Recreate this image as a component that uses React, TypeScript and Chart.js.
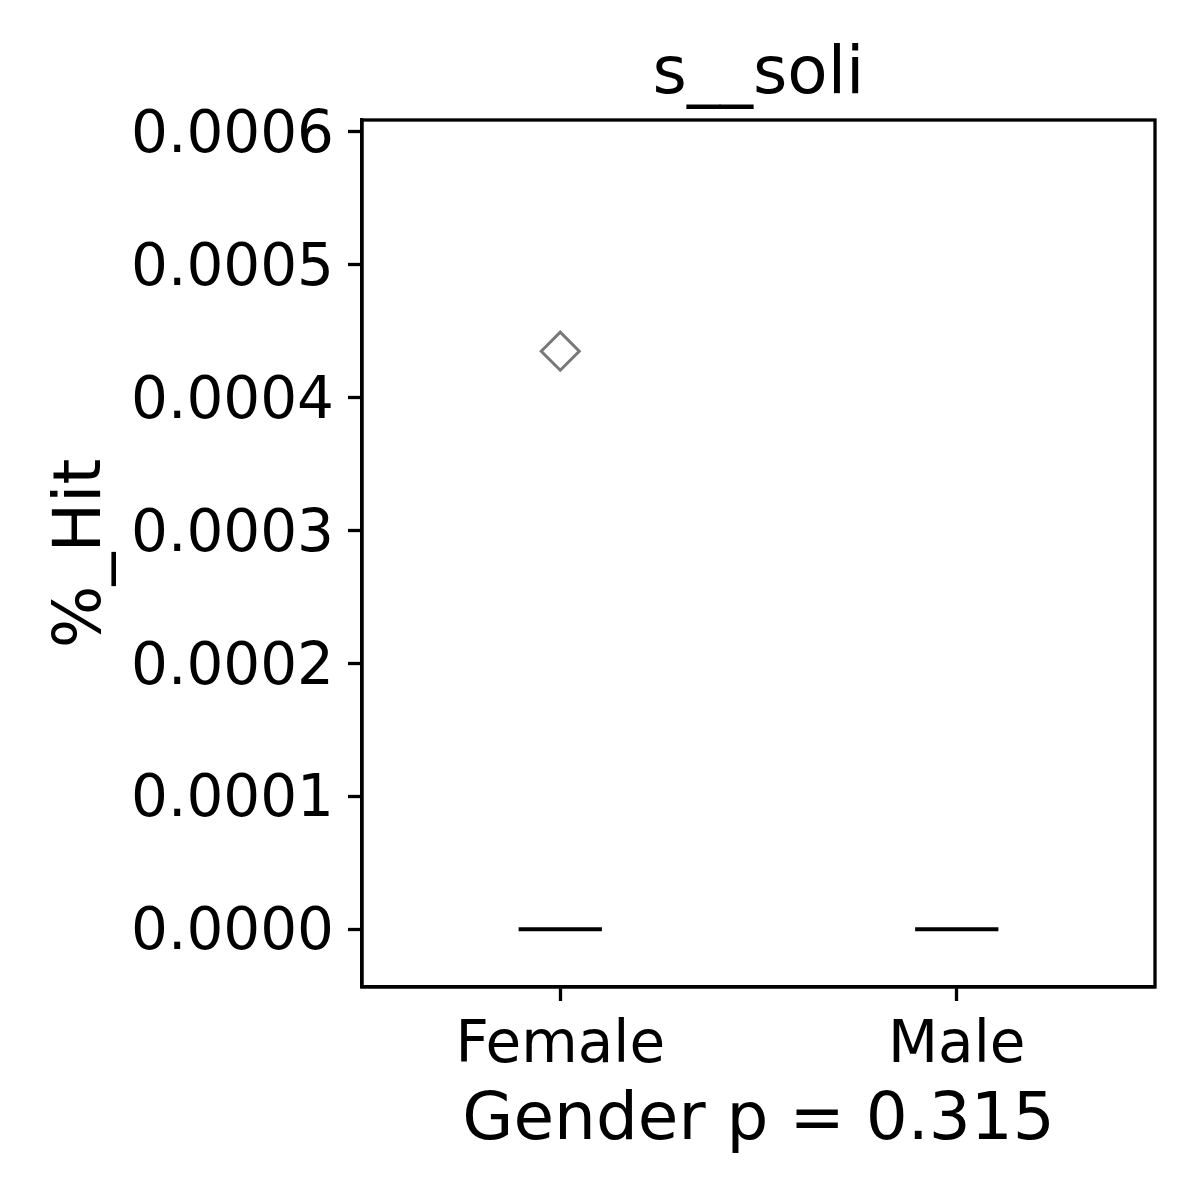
import React, { useEffect, useRef } from "react";
import { Chart, registerables } from "chart.js";

Chart.register(...registerables);

const categories = ["Female", "Male"];
const medians = [0, 0];
const outliers: number[][] = [[0.000435], []];
const yTickValues = [0, 0.0001, 0.0002, 0.0003, 0.0004, 0.0005, 0.0006];
const yMin = -0.0000435;
const yMax = 0.000609;
const titleText = "s__soli";
const xTitle = "Gender p = 0.315";
const yTitle = "%_Hit";

const BOX_HALF = 0.105;
const FONT = "'DejaVu Sans', sans-serif";

const frame = {
  id: "frame",
  afterDraw(chart: any) {
    const { ctx, chartArea } = chart;
    ctx.save();
    ctx.strokeStyle = "#000";
    ctx.lineWidth = 3.3;
    ctx.strokeRect(chartArea.left, chartArea.top, chartArea.right - chartArea.left, chartArea.bottom - chartArea.top);
    ctx.restore();
  },
};

export default function App() {
  const ref = useRef<HTMLCanvasElement>(null);
  useEffect(() => {
    const datasets: any[] = [];
    categories.forEach((c, i) => {
      datasets.push({
        type: "line",
        label: c + " median",
        data: [
          { x: i - BOX_HALF, y: medians[i] },
          { x: i + BOX_HALF, y: medians[i] },
        ],
        borderColor: "#000",
        borderWidth: 4,
        pointRadius: 0,
        borderCapStyle: "butt",
      });
      if (outliers[i].length) {
        datasets.push({
          type: "scatter",
          label: c + " outliers",
          data: outliers[i].map((v) => ({ x: i, y: v })),
          pointStyle: "rectRot",
          pointRadius: 19,
          borderWidth: 3,
          borderColor: "rgb(120,120,120)",
          backgroundColor: "rgba(0,0,0,0)",
        });
      }
    });
    const chart = new Chart(ref.current!, {
      type: "scatter",
      data: { datasets },
      options: {
        animation: false,
        responsive: false,
        devicePixelRatio: 1,
        layout: { padding: { left: 0, right: 45, top: 0, bottom: 0 } },
        plugins: {
          legend: { display: false },
          tooltip: { enabled: false },
          title: {
            display: true,
            fullSize: false,
            text: titleText,
            color: "#000",
            font: { family: FONT, size: 66, weight: "normal" },
            padding: { top: 36, bottom: 4.8 },
          },
        },
        scales: {
          x: {
            type: "linear",
            min: -0.5,
            max: 1.5,
            afterBuildTicks: (s: any) => {
              s.ticks = categories.map((_, i) => ({ value: i }));
            },
            afterFit: (s: any) => {
              s.height = 213;
            },
            ticks: {
              color: "#000",
              font: { family: FONT, size: 58 },
              padding: 11,
              maxRotation: 0,
              autoSkip: false,
              callback: (v: any) => categories[v as number] ?? "",
            },
            grid: { drawOnChartArea: false, drawTicks: true, tickLength: 14, tickWidth: 3.3, tickColor: "#000" },
            border: { display: true, color: "#000", width: 3.3 },
            title: {
              display: true,
              text: xTitle,
              color: "#000",
              font: { family: FONT, size: 66 },
              padding: { top: 0, bottom: 39 },
            },
          },
          y: {
            type: "linear",
            min: yMin,
            max: yMax,
            afterBuildTicks: (s: any) => {
              s.ticks = yTickValues.map((v) => ({ value: v }));
            },
            afterFit: (s: any) => {
              s.width = 362;
            },
            ticks: {
              color: "#000",
              font: { family: FONT, size: 58 },
              padding: 14,
              labelOffset: 5,
              callback: (v: any) => Number(v).toFixed(4),
            },
            grid: { drawOnChartArea: false, drawTicks: true, tickLength: 14, tickWidth: 3.3, tickColor: "#000" },
            border: { display: true, color: "#000", width: 3.3 },
            title: {
              display: true,
              text: yTitle,
              color: "#000",
              font: { family: FONT, size: 66 },
              padding: { top: 43, bottom: 0 },
            },
          },
        },
      },
      plugins: [frame],
    });
    return () => chart.destroy();
  }, []);
  return (
    <div style={{ position: "fixed", left: 0, top: 0, width: 1200, height: 1200, background: "#fff" }}>
      <canvas ref={ref} width={1200} height={1200} style={{ width: 1200, height: 1200 }} />
    </div>
  );
}
